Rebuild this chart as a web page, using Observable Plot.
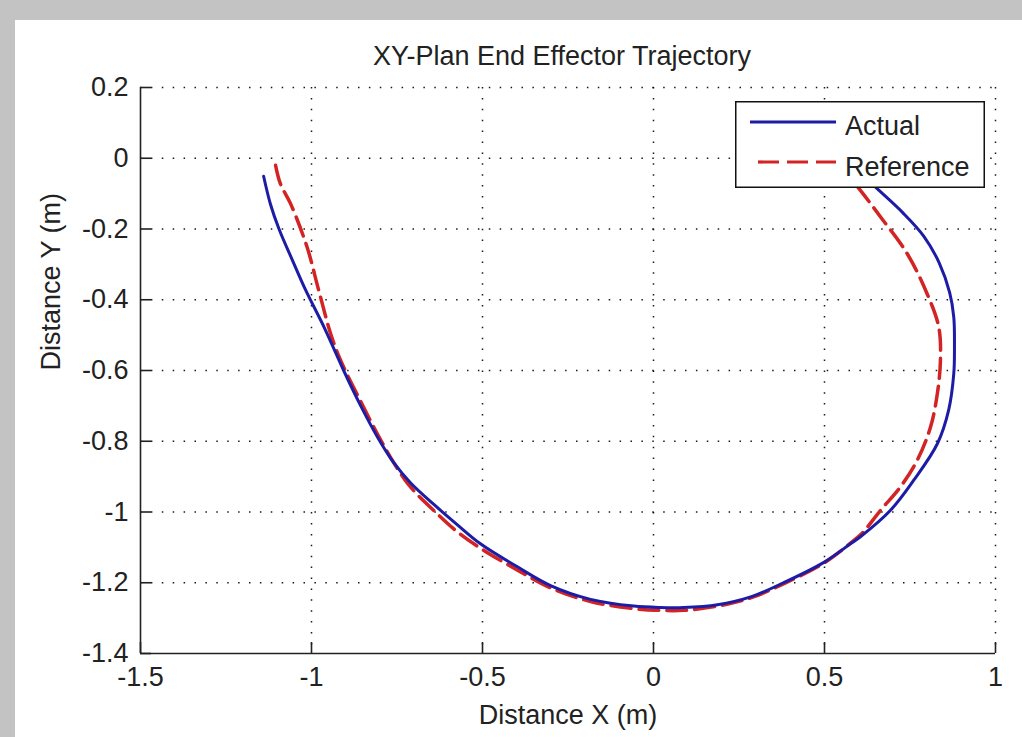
<!DOCTYPE html>
<html><head><meta charset="utf-8">
<script src="https://cdn.jsdelivr.net/npm/d3@7"></script>
<script src="https://cdn.jsdelivr.net/npm/@observablehq/plot@0.6"></script>
<style>
html,body{margin:0;padding:0;background:#fff;width:1022px;height:737px;overflow:hidden;}
#bandTop{position:absolute;left:0;top:0;width:1100px;height:20px;background:#c3c3c3;}
#bandLeft{position:absolute;left:0;top:0;width:15px;height:800px;background:#c3c3c3;}
#fig{position:absolute;left:15px;top:20px;width:1007px;height:717px;background:#fff;}
#legend{position:absolute;left:735px;top:101px;}
text{font-family:"Liberation Sans",Arial,Helvetica,sans-serif;}
</style></head><body>
<div id="bandTop"></div><div id="bandLeft"></div>
<div id="fig"></div>
<svg id="legend" width="250" height="87" xmlns="http://www.w3.org/2000/svg"></svg>
<script>
const title = "XY-Plan End Effector Trajectory";
const xLabel = "Distance X (m)";
const yLabel = "Distance Y (m)";
const seriesNames = ["Actual", "Reference"];
const seriesColors = ["#1c1ca6", "#d22424"];
const xTicks = [-1.5, -1, -0.5, 0, 0.5, 1];
const yTicks = [0.2, 0, -0.2, -0.4, -0.6, -0.8, -1, -1.2, -1.4];
const xTickLabels = ["-1.5", "-1", "-0.5", "0", "0.5", "1"];
const yTickLabels = ["0.2", "0", "-0.2", "-0.4", "-0.6", "-0.8", "-1", "-1.2", "-1.4"];

const actualX = [-1.140, -1.120, -1.095, -1.055, -1.017, -0.962, -0.906, -0.856, -0.806, -0.760, -0.710, -0.643, -0.575, -0.506, -0.398, -0.301, -0.184, -0.058, 0.020, 0.088, 0.187, 0.284, 0.380, 0.497, 0.576, 0.605, 0.693, 0.761, 0.830, 0.863, 0.878, 0.880, 0.878, 0.866, 0.835, 0.790, 0.730, 0.654, 0.620];
const actualY = [-0.051, -0.130, -0.200, -0.290, -0.373, -0.480, -0.600, -0.700, -0.790, -0.860, -0.918, -0.978, -1.035, -1.090, -1.155, -1.208, -1.247, -1.266, -1.270, -1.270, -1.262, -1.240, -1.200, -1.143, -1.090, -1.070, -0.995, -0.910, -0.807, -0.712, -0.609, -0.534, -0.449, -0.380, -0.295, -0.220, -0.155, -0.086, -0.055];

const refX = [-1.105, -1.091, -1.061, -1.013, -0.979, -0.944, -0.915, -0.860, -0.808, -0.760, -0.710, -0.640, -0.575, -0.510, -0.400, -0.300, -0.184, -0.058, 0.020, 0.088, 0.187, 0.284, 0.380, 0.497, 0.576, 0.610, 0.664, 0.722, 0.771, 0.810, 0.830, 0.839, 0.834, 0.800, 0.742, 0.664, 0.605, 0.570];
const refY = [-0.020, -0.072, -0.129, -0.251, -0.373, -0.496, -0.571, -0.680, -0.778, -0.860, -0.930, -0.998, -1.055, -1.100, -1.163, -1.215, -1.253, -1.273, -1.278, -1.278, -1.266, -1.243, -1.203, -1.145, -1.088, -1.060, -0.995, -0.929, -0.854, -0.760, -0.665, -0.571, -0.477, -0.383, -0.270, -0.166, -0.091, -0.050];

const actual = actualX.map((x, i) => ({x, y: actualY[i]}));
const reference = refX.map((x, i) => ({x, y: refY[i]}));

const FONT = "27px";
const chart = Plot.plot({
  width: 1007,
  height: 717,
  marginLeft: 125,
  marginRight: 27,
  marginTop: 67,
  marginBottom: 84,
  style: {fontFamily: '"Liberation Sans", Arial, sans-serif', fontSize: FONT, color: "#222", background: "transparent"},
  x: {domain: [-1.5, 1], label: null},
  y: {domain: [-1.4, 0.2], label: null},
  marks: [
    Plot.ruleX(xTicks.slice(1), {stroke: "#000", strokeWidth: 1.5, strokeDasharray: "1.5,9.4", strokeOpacity: 0.9}),
    Plot.ruleY(yTicks.slice(0, -1), {stroke: "#000", strokeWidth: 1.5, strokeDasharray: "1.5,9.4", strokeOpacity: 0.9}),
    Plot.line(reference, {x: "x", y: "y", stroke: seriesColors[1], strokeWidth: 3.5, strokeDasharray: "20,8", curve: "catmull-rom"}),
    Plot.line(actual, {x: "x", y: "y", stroke: seriesColors[0], strokeWidth: 3, curve: "catmull-rom"}),
    Plot.ruleY([-1.4], {stroke: "#222", strokeWidth: 1.6}),
    Plot.ruleX([-1.5], {stroke: "#222", strokeWidth: 1.6}),
    Plot.ruleX(xTicks, {x: d => d, y1: -1.4, y2: -1.4, insetBottom: 11, stroke: "#222", strokeWidth: 1.6}),
    Plot.ruleY(yTicks, {y: d => d, x1: -1.5, x2: -1.5, insetRight: -11, stroke: "#222", strokeWidth: 1.6}),
    Plot.axisX({ticks: xTicks, tickSize: 0, tickPadding: 13, tickFormat: d => xTickLabels[xTicks.indexOf(d)], fontSize: FONT, fill: "#222"}),
    Plot.axisY({ticks: yTicks, tickSize: 0, tickPadding: 12, tickFormat: d => yTickLabels[yTicks.indexOf(d)], fontSize: FONT, fill: "#222"}),
    Plot.text([title], {frameAnchor: "top", dy: -42, dx: -6, fontSize: FONT, fill: "#222"}),
    Plot.text([xLabel], {frameAnchor: "bottom", dy: 70, fontSize: FONT, fill: "#222"}),
    Plot.text([yLabel], {frameAnchor: "left", dx: -89, rotate: -90, fontSize: FONT, fill: "#222"})
  ]
});
document.getElementById("fig").appendChild(chart);

// legend
const lg = d3.select("#legend");
lg.append("rect").attr("x", 0.75).attr("y", 0.75).attr("width", 248.5).attr("height", 85.5)
  .attr("fill", "#fff").attr("stroke", "#111").attr("stroke-width", 1.5);
const rows = [
  {name: seriesNames[0], color: seriesColors[0], dash: null, x1: 15, ly: 21, ty: 34},
  {name: seriesNames[1], color: seriesColors[1], dash: "21,8", x1: 23, ly: 61, ty: 75}
];
rows.forEach(r => {
  lg.append("line").attr("x1", r.x1).attr("x2", 101).attr("y1", r.ly).attr("y2", r.ly)
    .attr("stroke", r.color).attr("stroke-width", 3.2).attr("stroke-dasharray", r.dash);
  lg.append("text").attr("x", 110).attr("y", r.ty).attr("font-size", FONT).attr("fill", "#222").text(r.name);
});
</script>
</body></html>
